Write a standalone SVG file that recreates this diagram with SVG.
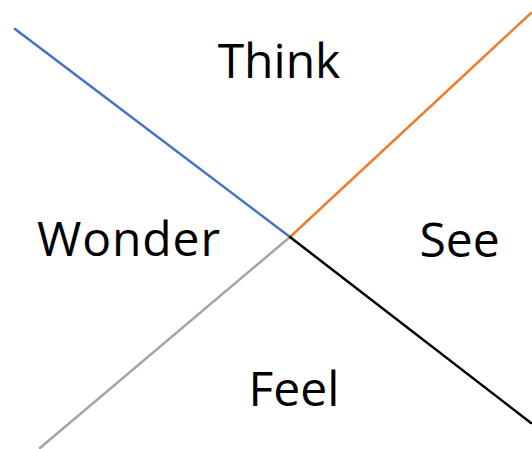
<svg xmlns="http://www.w3.org/2000/svg" width="532" height="449" viewBox="0 0 532 449">
<style>
.lbl{font-family:"Open Sans","Noto Sans","Liberation Sans",sans-serif;font-size:48px;fill:#000;text-anchor:middle}
.ln{stroke-width:2.5;fill:none;stroke-linecap:round}
</style>
<rect width="532" height="449" fill="#fff"/>
<g id="connectors">
<line class="ln" x1="15" y1="29" x2="290" y2="237" stroke="#4472C4"/>
<line class="ln" x1="290" y1="237" x2="531" y2="13" stroke="#ED7D31"/>
<line class="ln" x1="290" y1="237" x2="40" y2="448" stroke="#A5A5A5"/>
<line class="ln" x1="290" y1="237" x2="531" y2="423" stroke="#000000"/>
</g>
<g id="think"><text class="lbl" x="279" y="78">Think</text></g>
<g id="wonder"><text class="lbl" x="128.5" y="256" textLength="183" lengthAdjust="spacing">Wonder</text></g>
<g id="see"><text class="lbl" x="459.5" y="257">See</text></g>
<g id="feel"><text class="lbl" x="294" y="406">Feel</text></g>
</svg>
